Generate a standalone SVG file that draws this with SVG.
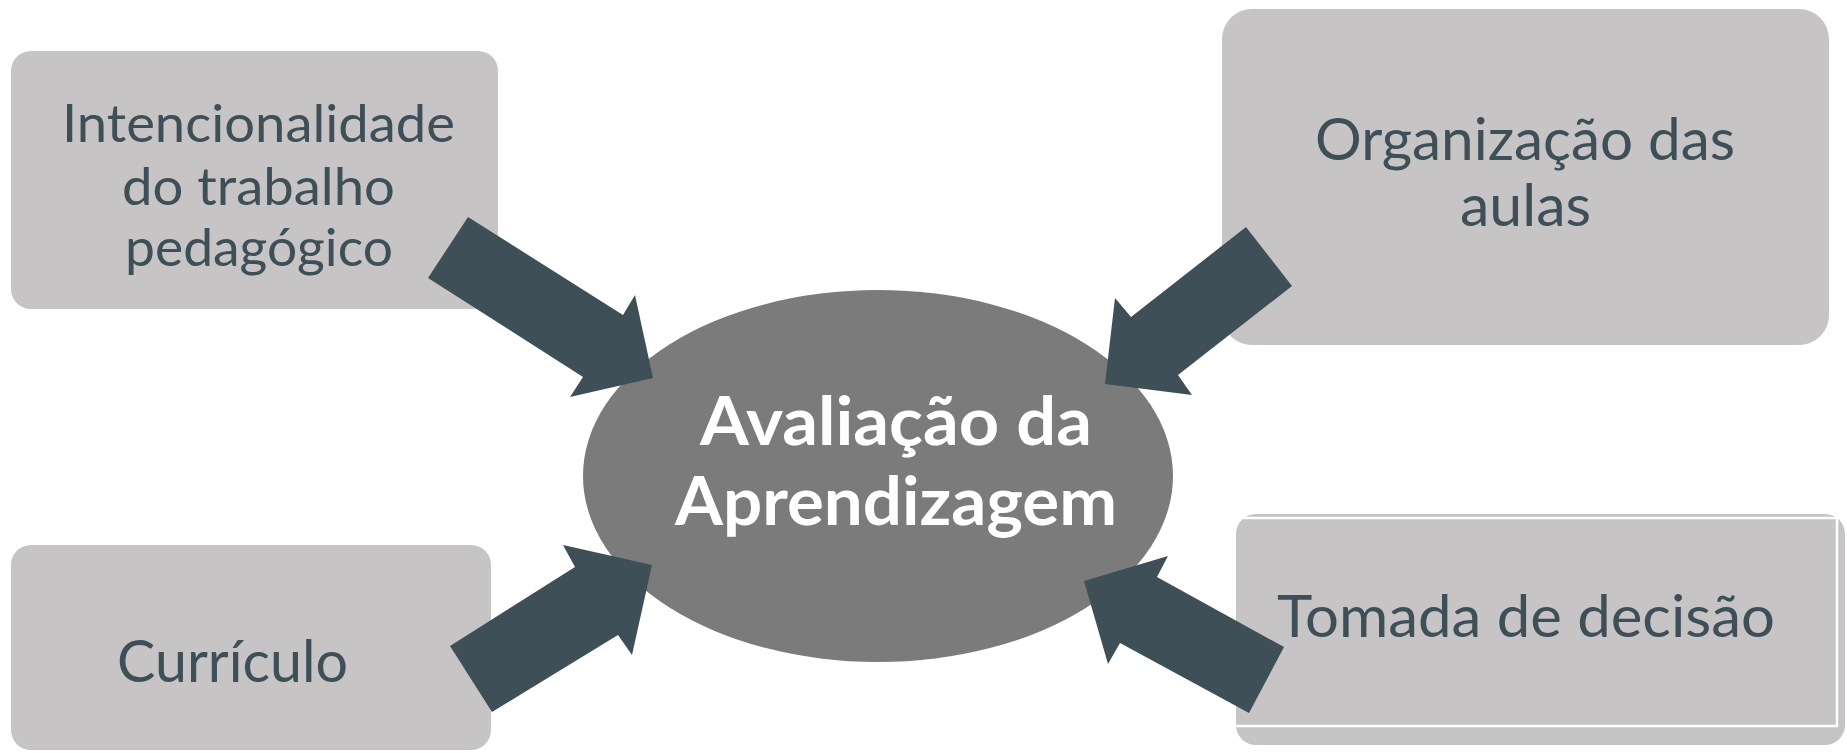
<svg xmlns="http://www.w3.org/2000/svg" width="1847" height="753" viewBox="0 0 1847 753">
<style>
.box{fill:#c6c4c5}
.lbl{font-family:Lato,"Open Sans","Liberation Sans",sans-serif;fill:#3f4f58;font-weight:400}
.ctr{font-family:Lato,"Open Sans","Liberation Sans",sans-serif;fill:#ffffff;font-weight:700;font-size:66px}
.arrow{fill:#3f4f57}
</style>
<rect width="1847" height="753" fill="#ffffff"/>
<g id="node-intencionalidade">
<rect class="box" x="11" y="51" width="487" height="258" rx="20"/>
<text class="lbl" font-size="52" x="62" y="142" textLength="393" lengthAdjust="spacingAndGlyphs">Intencionalidade</text>
<text class="lbl" font-size="52" x="122" y="205" textLength="273" lengthAdjust="spacingAndGlyphs">do trabalho</text>
<text class="lbl" font-size="52" x="125" y="266" textLength="268" lengthAdjust="spacingAndGlyphs">pedagógico</text>
</g>
<g id="node-organizacao">
<rect class="box" x="1222" y="9" width="607" height="336" rx="30"/>
<text class="lbl" font-size="57.5" x="1315" y="160" textLength="420" lengthAdjust="spacingAndGlyphs">Organização das</text>
<text class="lbl" font-size="57.5" x="1460" y="226" textLength="131" lengthAdjust="spacingAndGlyphs">aulas</text>
</g>
<g id="node-curriculo">
<rect class="box" x="11" y="545" width="480" height="205" rx="20"/>
<text class="lbl" font-size="57.5" x="117" y="682" textLength="231" lengthAdjust="spacingAndGlyphs">Currículo</text>
</g>
<g id="node-tomada">
<rect class="box" x="1236" y="514" width="609" height="231" rx="20"/>
<path d="M1236,518 H1837 V726 H1236" fill="none" stroke="#ffffff" stroke-width="2.5"/>
<text class="lbl" font-size="57.5" x="1277" y="637" textLength="498" lengthAdjust="spacingAndGlyphs">Tomada de decisão</text>
</g>
<g id="node-avaliacao">
<ellipse cx="878" cy="476" rx="295" ry="186" fill="#7b7b7b"/>
<text class="ctr" x="700" y="445" textLength="392" lengthAdjust="spacingAndGlyphs">Avaliação da</text>
<text class="ctr" x="675" y="525" textLength="442" lengthAdjust="spacingAndGlyphs">Aprendizagem</text>
</g>
<g id="connectors">
<polygon class="arrow" points="468,217 623,315 635,295 653,378 570,397 583,377 428,278"/>
<polygon class="arrow" points="1246,227 1131,317 1115,298 1105,384 1192,395 1178,375 1292,286"/>
<polygon class="arrow" points="450,646 575,567 563,545 652,565 632,655 618,635 492,712"/>
<polygon class="arrow" points="1284,647 1157,577 1168,556 1084,581 1108,664 1120,643 1249,713"/>
</g>
</svg>
